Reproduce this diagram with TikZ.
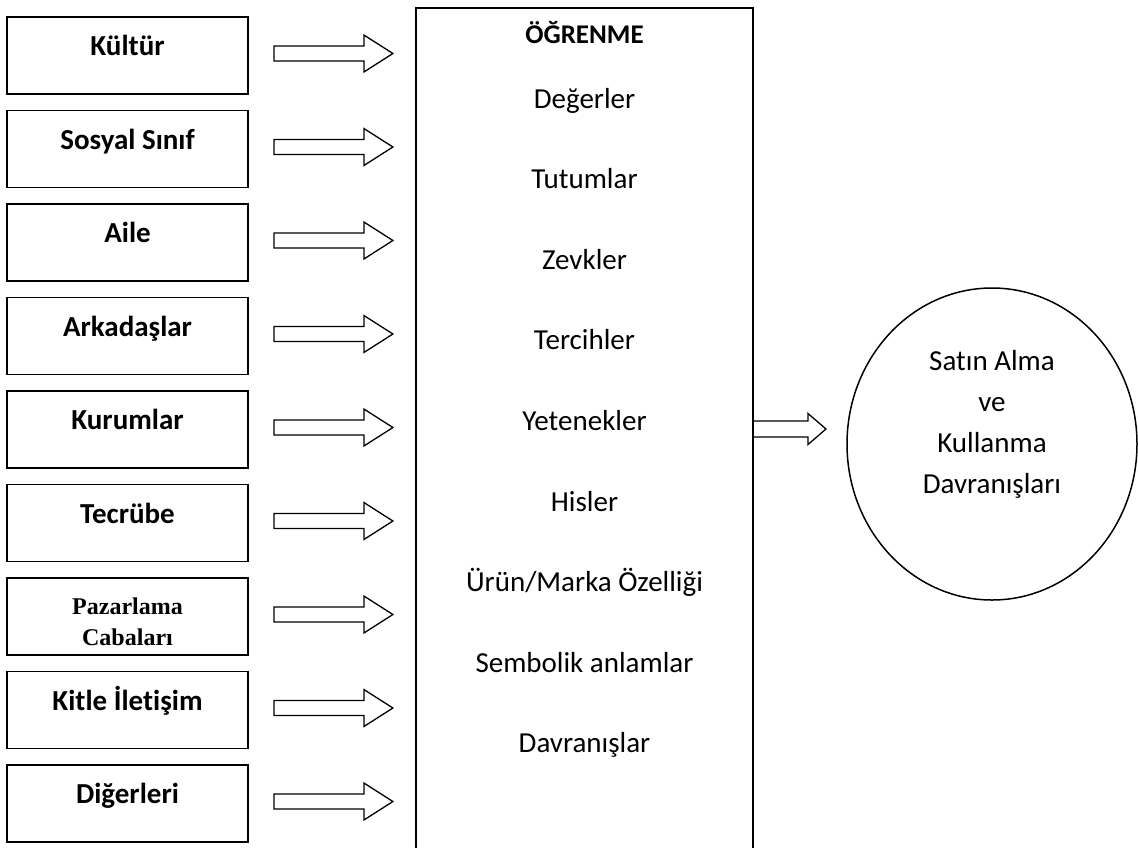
\documentclass[tikz,border=0pt]{standalone}
\usepackage{fontspec}
\setmainfont{Carlito}[Ligatures=NoCommon]
\newfontfamily\timesbold{Liberation Serif}[BoldFont={Liberation Serif Bold}]
\usetikzlibrary{shapes.geometric,calc}

\begin{document}
\begin{tikzpicture}[x=1pt,y=-1pt,
  boxbase/.style={draw, line width=1.8pt, minimum width=241pt, minimum height=77pt, inner sep=0pt},
  lbox/.style={boxbase, font=\bfseries\fontsize{29}{35}\selectfont, text height=20pt, text depth=20pt},
  blockarr/.style={draw, line width=1.3pt, line join=miter},
  itemtxt/.style={anchor=base, font=\fontsize{29}{35}\selectfont, inner sep=0pt}
]
\useasboundingbox (0,0) rectangle (1138,847);

% factor boxes on the left
\foreach \name/\txt [count=\i] in {kultur/Kültür, sinif/Sosyal Sınıf, aile/Aile,
    arkadas/Arkadaşlar, kurum/Kurumlar, tecrube/Tecrübe, pazar/{}, kitle/Kitle İletişim,
    diger/Diğerleri}{
  \node[lbox] (\name) at (127.5, {55.5 + 93.5*(\i-1)}) {\txt};
}
\node[font=\timesbold\bfseries\fontsize{24}{31}\selectfont, align=center, inner sep=0pt]
  (pazartxt) at ($(pazar.center)+(0,5)$) {Pazarlama\\Cabaları};

% learning box, open towards the bottom
\node[draw, line width=2pt, minimum width=337pt, minimum height=900pt, inner sep=0pt]
  (learn) at (584.5, 458) {};
\node[anchor=base, inner sep=0pt, font=\bfseries\fontsize{27}{33}\selectfont]
  (baslik) at (584.5, 43) {ÖĞRENME};
\foreach \name/\txt [count=\i] in {deger/Değerler, tutum/Tutumlar, zevk/Zevkler,
    tercih/Tercihler, yetenek/Yetenekler, his/Hisler, urun/{Ürün/Marka Özelliği},
    sembol/Sembolik anlamlar, davranis/Davranışlar}{
  \node[itemtxt] (\name) at (584.5, {108 + 80.6*(\i-1)}) {\txt};
}

% block arrows from each factor into the learning box
\foreach \name in {kultur, sinif, aile, arkadas, kurum, tecrube, pazar, kitle, diger}{
  \draw[blockarr] ($(\name.east)+(25,-9.5)$) -- ++(90,0) -- ++(0,-11) -- ++(29,18.5)
    -- ++(-29,18.5) -- ++(0,-11) -- ++(-90,0) -- cycle;
}

% outcome
\node[draw, ellipse, line width=1.5pt, minimum width=290pt, minimum height=312pt, inner sep=0pt]
  (buy) at (992, 444) {};
\node[align=center, inner sep=0pt, font=\fontsize{29}{41}\selectfont]
  (buytxt) at (buy.center) [yshift=20pt] {Satın Alma\\ve\\Kullanma\\Davranışları};

% arrow from the learning box to the outcome
\draw[blockarr] ($(learn.east)+(0,-37)$) -- ++(54,0) -- ++(0,-7.5) -- ++(18,15.5)
  -- ++(-18,15.5) -- ++(0,-7.5) -- ++(-54,0);
\end{tikzpicture}
\end{document}
